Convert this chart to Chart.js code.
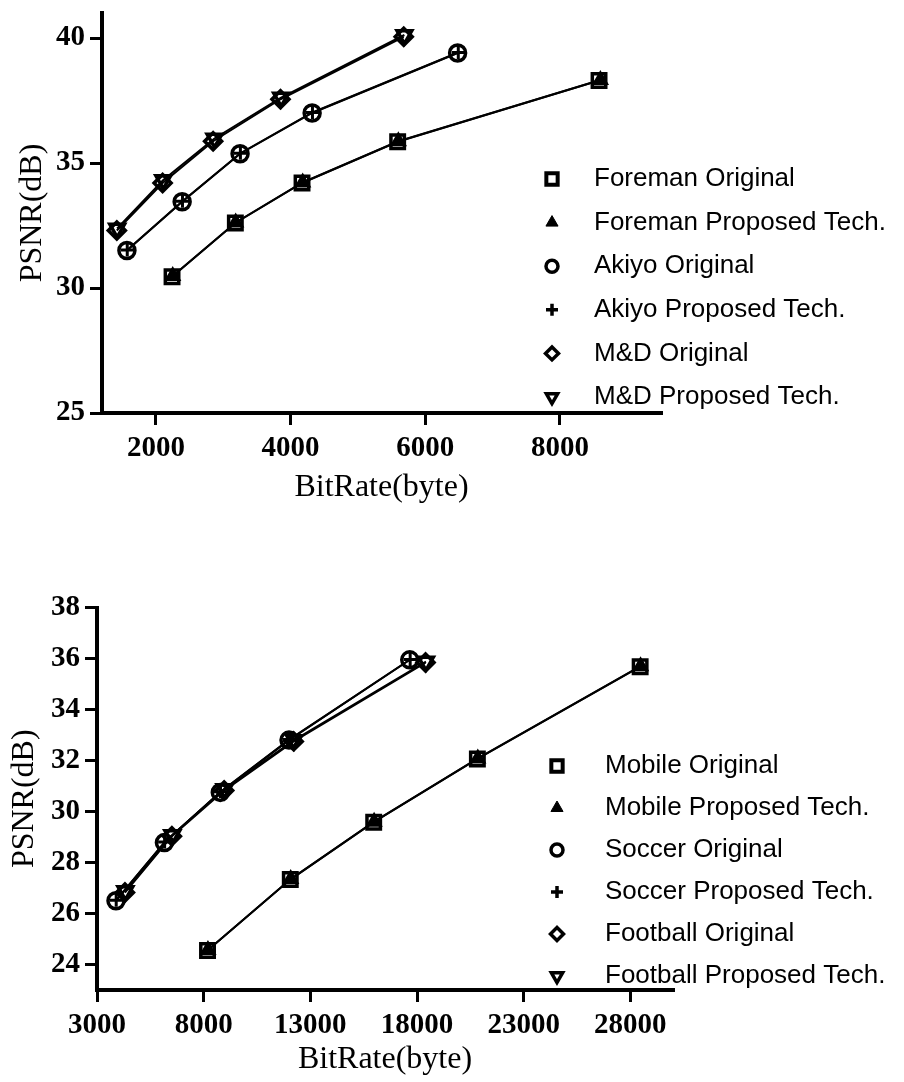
<!DOCTYPE html>
<html>
<head>
<meta charset="utf-8">
<script src="https://cdn.jsdelivr.net/npm/chart.js@4.4.0/dist/chart.umd.min.js"></script>
<style>
  html, body { margin: 0; padding: 0; background: #fff; }
  #wrap { position: relative; width: 904px; height: 1082px; overflow: hidden; }
  canvas { position: absolute; left: 0; }
  #chartTop { top: 0; }
  #chartBottom { top: 540px; }
</style>
</head>
<body>
<div id="wrap">
  <canvas id="chartTop" width="904" height="510"></canvas>
  <canvas id="chartBottom" width="904" height="542"></canvas>
</div>
<script>
// ---- top plot: Foreman / Akiyo / M&D ----
const topLabels = ['Foreman Original', 'Foreman Proposed Tech.', 'Akiyo Original',
                   'Akiyo Proposed Tech.', 'M&D Original', 'M&D Proposed Tech.'];
const foremanRate     = [2240, 3180, 4170, 5590, 8580];
const foremanOrig     = [30.45, 32.6, 34.2, 35.85, 38.3];
const foremanPropRate = [2250, 3185, 4180, 5600, 8600];
const foremanProp     = [30.48, 32.62, 34.22, 35.87, 38.32];
const akiyoRate       = [1570, 2390, 3250, 4320, 6480];
const akiyoOrig       = [31.5, 33.45, 35.37, 37.0, 39.4];
const akiyoPropRate   = [1575, 2395, 3255, 4325, 6490];
const akiyoProp       = [31.52, 33.47, 35.39, 37.02, 39.42];
const mdRate          = [1420, 2100, 2850, 3850, 5680];
const mdOrig          = [32.3, 34.2, 35.87, 37.55, 40.05];
const mdPropRate      = [1425, 2110, 2870, 3860, 5690];
const mdProp          = [32.38, 34.32, 35.98, 37.62, 40.12];
const topXTicks = [2000, 4000, 6000, 8000];
const topYTicks = [25, 30, 35, 40];

// ---- bottom plot: Mobile / Soccer / Football ----
const bottomLabels = ['Mobile Original', 'Mobile Proposed Tech.', 'Soccer Original',
                      'Soccer Proposed Tech.', 'Football Original', 'Football Proposed Tech.'];
const mobileRate       = [8180, 12060, 15970, 20830, 28460];
const mobileOrig       = [24.55, 27.33, 29.58, 32.06, 35.68];
const mobilePropRate   = [8200, 12080, 15990, 20850, 28480];
const mobileProp       = [24.57, 27.35, 29.6, 32.08, 35.7];
const soccerRate       = [3890, 6160, 8780, 12000, 17660];
const soccerOrig       = [26.5, 28.78, 30.75, 32.8, 35.95];
const soccerPropRate   = [3900, 6170, 8790, 12010, 17680];
const soccerProp       = [26.52, 28.8, 30.77, 32.82, 35.96];
const footballRate     = [4310, 6510, 8960, 12220, 18400];
const footballOrig     = [26.82, 29.03, 30.82, 32.75, 35.84];
const footballPropRate = [4330, 6530, 8980, 12240, 18420];
const footballProp     = [26.88, 29.08, 30.88, 32.8, 35.88];
const bottomXTicks = [3000, 8000, 13000, 18000, 23000, 28000];
const bottomYTicks = [24, 26, 28, 30, 32, 34, 36, 38];

// marker look for the six series (same order in both plots)
const markers = [
  { style: 'rect',     rot: 0,   r: 9.5, bw: 3.5, fill: 'rgba(0,0,0,0)', lr: 8,   lbw: 4,   lfill: 'rgba(0,0,0,0)' },
  { style: 'triangle', rot: 0,   r: 8,   bw: 2,   fill: '#000',          lr: 7,   lbw: 1,   lfill: '#000' },
  { style: 'circle',   rot: 0,   r: 8,   bw: 3.5, fill: 'rgba(0,0,0,0)', lr: 6,   lbw: 3.5, lfill: 'rgba(0,0,0,0)' },
  { style: 'cross',    rot: 0,   r: 6.5, bw: 3,   fill: 'rgba(0,0,0,0)', lr: 6,   lbw: 3.5, lfill: 'rgba(0,0,0,0)' },
  { style: 'rectRot',  rot: 0,   r: 8.5, bw: 3.5, fill: 'rgba(0,0,0,0)', lr: 6.5, lbw: 3.5, lfill: 'rgba(0,0,0,0)' },
  { style: 'triangle', rot: 180, r: 8.5, bw: 3.5, fill: 'rgba(0,0,0,0)', lr: 6.5, lbw: 3.5, lfill: 'rgba(0,0,0,0)' }
];

const serif = '"Liberation Serif", "Times New Roman", serif';
const sans = '"Liberation Sans", Arial, sans-serif';

function toPoints(xs, ys) {
  return xs.map((x, i) => ({ x: x, y: ys[i] }));
}

function buildDatasets(labels, pairs) {
  return pairs.map((p, i) => {
    const m = markers[i];
    return {
      label: labels[i],
      data: toPoints(p[0], p[1]),
      borderColor: '#000',
      borderWidth: 2,
      pointStyle: m.style,
      pointRotation: m.rot,
      pointRadius: m.r,
      pointBorderWidth: m.bw,
      pointBorderColor: '#000',
      pointBackgroundColor: m.fill,
      legendRadius: m.lr,
      legendBorder: m.lbw,
      legendFill: m.lfill
    };
  });
}

// legend drawn beside the plot, one row per dataset
const sideLegend = {
  id: 'sideLegend',
  afterDraw(chart, args, opts) {
    const ctx = chart.ctx;
    ctx.save();
    ctx.font = '26px ' + sans;
    ctx.textBaseline = 'middle';
    ctx.textAlign = 'left';
    chart.data.datasets.forEach((ds, i) => {
      const y = opts.top + i * opts.step;
      ctx.strokeStyle = '#000';
      ctx.fillStyle = ds.legendFill;
      ctx.lineWidth = ds.legendBorder;
      ctx.lineJoin = 'miter';
      Chart.helpers.drawPoint(ctx, {
        pointStyle: ds.pointStyle,
        rotation: ds.pointRotation,
        radius: ds.legendRadius,
        borderWidth: ds.legendBorder
      }, opts.markerX, y);
      ctx.fillStyle = '#000';
      ctx.fillText(ds.label, opts.textX, y);
    });
    ctx.restore();
  }
};

function axis(ticks, min, max, title, fixed, isX, titlePad) {
  return {
    type: 'linear',
    min: min,
    max: max,
    afterBuildTicks: s => { s.ticks = ticks.map(v => ({ value: v })); },
    afterFit: s => {
      if (isX) { s.height = fixed; s.paddingLeft = 0; s.paddingRight = 0; }
      else { s.width = fixed; s.paddingTop = 0; s.paddingBottom = 0; }
    },
    border: { display: true, color: '#000', width: 4 },
    grid: { display: true, drawOnChartArea: false, drawTicks: true, tickLength: 12,
            lineWidth: 3, tickWidth: 3, color: '#000', tickColor: '#000' },
    ticks: {
      autoSkip: false, maxRotation: 0, padding: isX ? 6 : 5, color: '#000',
      font: { family: serif, size: 29, weight: 'bold' },
      callback: v => String(v)
    },
    title: {
      display: true, text: title, color: '#000',
      font: { family: serif, size: 32, weight: 'normal' },
      padding: isX ? { top: 0, bottom: titlePad } : { top: titlePad, bottom: 0 }
    }
  };
}

function makeChart(id, labels, pairs, cfg) {
  return new Chart(document.getElementById(id), {
    type: 'line',
    data: { datasets: buildDatasets(labels, pairs) },
    options: {
      responsive: false,
      animation: false,
      devicePixelRatio: 1,
      layout: { padding: cfg.padding },
      plugins: {
        legend: { display: false },
        tooltip: { enabled: false },
        sideLegend: cfg.legend
      },
      scales: {
        x: axis(cfg.xTicks, cfg.xMin, cfg.xMax, 'BitRate(byte)', cfg.xHeight, true, 3),
        y: axis(cfg.yTicks, cfg.yMin, cfg.yMax, 'PSNR(dB)', cfg.yWidth, false, cfg.yTitlePad)
      }
    },
    plugins: [sideLegend]
  });
}

makeChart('chartTop', topLabels, [
  [foremanRate, foremanOrig], [foremanPropRate, foremanProp],
  [akiyoRate, akiyoOrig], [akiyoPropRate, akiyoProp],
  [mdRate, mdOrig], [mdPropRate, mdProp]
], {
  xTicks: topXTicks, yTicks: topYTicks,
  xMin: 1200, xMax: 9500, yMin: 25, yMax: 41,
  padding: { left: 0, right: 243, top: 12, bottom: 0 },
  xHeight: 97, yWidth: 102, yTitlePad: 13,
  legend: { markerX: 552, textX: 594, top: 179, step: 43.6 }
});

makeChart('chartBottom', bottomLabels, [
  [mobileRate, mobileOrig], [mobilePropRate, mobileProp],
  [soccerRate, soccerOrig], [soccerPropRate, soccerProp],
  [footballRate, footballOrig], [footballPropRate, footballProp]
], {
  xTicks: bottomXTicks, yTicks: bottomYTicks,
  xMin: 3000, xMax: 30000, yMin: 23, yMax: 38,
  padding: { left: 0, right: 231, top: 67.5, bottom: 0 },
  xHeight: 92, yWidth: 97, yTitlePad: 5,
  legend: { markerX: 557, textX: 605, top: 226, step: 42 }
});
</script>
</body>
</html>
